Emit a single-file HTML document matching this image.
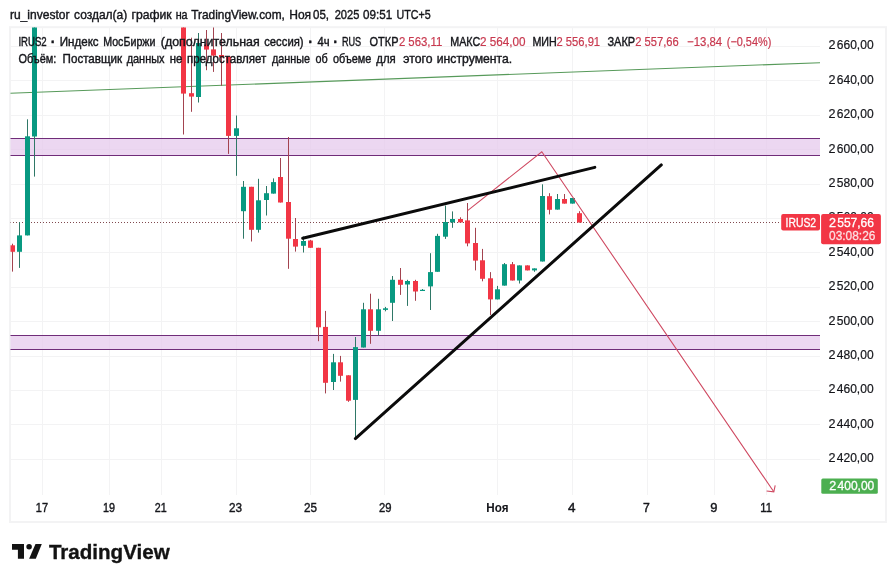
<!DOCTYPE html>
<html lang="ru"><head><meta charset="utf-8"><title>IRUS2 — TradingView</title>
<style>html,body{margin:0;padding:0;background:#fff;}body{width:896px;height:582px;overflow:hidden;font-family:"Liberation Sans",sans-serif;}svg{display:block;}text{font-family:"Liberation Sans",sans-serif;}</style>
</head><body>
<svg width="896" height="582" viewBox="0 0 896 582">
<rect width="896" height="582" fill="#ffffff"/>
<rect x="10" y="27.2" width="876" height="494.8" fill="#ffffff" stroke="#f3f3f4" stroke-width="2"/>
<clipPath id="plot"><rect x="10.5" y="27.5" width="809.5" height="466"/></clipPath>
<g stroke="#f3f3f4" stroke-width="1" shape-rendering="crispEdges">
<line x1="42.5" y1="27" x2="42.5" y2="495"/>
<line x1="109.5" y1="27" x2="109.5" y2="495"/>
<line x1="161.5" y1="27" x2="161.5" y2="495"/>
<line x1="236.5" y1="27" x2="236.5" y2="495"/>
<line x1="310.5" y1="27" x2="310.5" y2="495"/>
<line x1="384.5" y1="27" x2="384.5" y2="495"/>
<line x1="497.5" y1="27" x2="497.5" y2="495"/>
<line x1="572.5" y1="27" x2="572.5" y2="495"/>
<line x1="647.5" y1="27" x2="647.5" y2="495"/>
<line x1="714.5" y1="27" x2="714.5" y2="495"/>
<line x1="766.5" y1="27" x2="766.5" y2="495"/>
<line x1="10" y1="46.5" x2="820" y2="46.5"/>
<line x1="10" y1="80.5" x2="820" y2="80.5"/>
<line x1="10" y1="115.5" x2="820" y2="115.5"/>
<line x1="10" y1="149.5" x2="820" y2="149.5"/>
<line x1="10" y1="184.5" x2="820" y2="184.5"/>
<line x1="10" y1="218.5" x2="820" y2="218.5"/>
<line x1="10" y1="252.5" x2="820" y2="252.5"/>
<line x1="10" y1="287.5" x2="820" y2="287.5"/>
<line x1="10" y1="321.5" x2="820" y2="321.5"/>
<line x1="10" y1="356.5" x2="820" y2="356.5"/>
<line x1="10" y1="390.5" x2="820" y2="390.5"/>
<line x1="10" y1="424.5" x2="820" y2="424.5"/>
<line x1="10" y1="459.5" x2="820" y2="459.5"/>
</g>
<g clip-path="url(#plot)">
<rect x="0" y="138.5" width="820" height="17.0" fill="#e6c9ec" fill-opacity="0.75"/>
<line x1="0" y1="138.5" x2="820" y2="138.5" stroke="#702c79" stroke-width="1.15"/>
<line x1="0" y1="155.5" x2="820" y2="155.5" stroke="#702c79" stroke-width="1.15"/>
<rect x="0" y="335.5" width="820" height="14.0" fill="#e6c9ec" fill-opacity="0.75"/>
<line x1="0" y1="335.5" x2="820" y2="335.5" stroke="#702c79" stroke-width="1.15"/>
<line x1="0" y1="349.5" x2="820" y2="349.5" stroke="#702c79" stroke-width="1.15"/>
<line x1="10" y1="93.3" x2="820" y2="62.7" stroke="#579a5a" stroke-width="1.1"/>
<line x1="10" y1="222.5" x2="779" y2="222.5" stroke="#80494f" stroke-width="1" stroke-dasharray="1 2" shape-rendering="crispEdges"/>
<rect x="12" y="243.7" width="1" height="27.9" fill="#a3434f"/>
<rect x="10" y="245.3" width="5" height="6.5" fill="#F23645"/>
<rect x="19" y="222" width="1" height="45.9" fill="#2f7867"/>
<rect x="17" y="235.4" width="5" height="16.4" fill="#089981"/>
<rect x="27" y="119.3" width="1" height="116.1" fill="#2f7867"/>
<rect x="25" y="136.3" width="5" height="99.1" fill="#089981"/>
<rect x="34" y="27" width="1" height="149.6" fill="#2f7867"/>
<rect x="32" y="27" width="5" height="109.5" fill="#089981"/>
<rect x="183" y="27" width="1" height="107.5" fill="#a3434f"/>
<rect x="181" y="27" width="5" height="66.6" fill="#F23645"/>
<rect x="191" y="37.7" width="1" height="74.1" fill="#a3434f"/>
<rect x="189" y="93.2" width="5" height="3.4" fill="#F23645"/>
<rect x="198" y="33" width="1" height="69.5" fill="#2f7867"/>
<rect x="196" y="43" width="5" height="54.0" fill="#089981"/>
<rect x="206" y="30" width="1" height="40.2" fill="#a3434f"/>
<rect x="204" y="44.5" width="5" height="5.1" fill="#F23645"/>
<rect x="213" y="27" width="1" height="44.9" fill="#a3434f"/>
<rect x="211" y="49.4" width="5" height="6.2" fill="#F23645"/>
<rect x="221" y="33" width="1" height="52.7" fill="#a3434f"/>
<rect x="219" y="55" width="5" height="2.4" fill="#F23645"/>
<rect x="228" y="56.6" width="1" height="97.3" fill="#a3434f"/>
<rect x="226" y="56.6" width="5" height="79.3" fill="#F23645"/>
<rect x="236" y="115.5" width="1" height="60.3" fill="#2f7867"/>
<rect x="234" y="128.3" width="5" height="7.6" fill="#089981"/>
<rect x="243" y="181" width="1" height="57.7" fill="#2f7867"/>
<rect x="241" y="186.8" width="5" height="24.4" fill="#089981"/>
<rect x="251" y="186.8" width="1" height="54.7" fill="#a3434f"/>
<rect x="249" y="186.8" width="5" height="43.0" fill="#F23645"/>
<rect x="258" y="178.8" width="1" height="53.8" fill="#2f7867"/>
<rect x="256" y="200.3" width="5" height="29.5" fill="#089981"/>
<rect x="266" y="186" width="1" height="29.5" fill="#2f7867"/>
<rect x="264" y="193.2" width="5" height="6.8" fill="#089981"/>
<rect x="273" y="178.4" width="1" height="15.2" fill="#2f7867"/>
<rect x="271" y="182.1" width="5" height="11.5" fill="#089981"/>
<rect x="280" y="158" width="1" height="44.5" fill="#a3434f"/>
<rect x="278" y="177" width="5" height="25.5" fill="#F23645"/>
<rect x="288" y="137" width="1" height="131.8" fill="#a3434f"/>
<rect x="286" y="202" width="5" height="36.7" fill="#F23645"/>
<rect x="295" y="218" width="1" height="33.6" fill="#a3434f"/>
<rect x="293" y="239" width="5" height="7.6" fill="#F23645"/>
<rect x="303" y="236.5" width="1" height="16.0" fill="#2f7867"/>
<rect x="301" y="241" width="5" height="4.8" fill="#089981"/>
<rect x="310" y="239.9" width="1" height="7.9" fill="#a3434f"/>
<rect x="308" y="240.5" width="5" height="7.3" fill="#F23645"/>
<rect x="318" y="247.8" width="1" height="93.4" fill="#a3434f"/>
<rect x="316" y="247.8" width="5" height="79.5" fill="#F23645"/>
<rect x="325" y="310.9" width="1" height="82.5" fill="#a3434f"/>
<rect x="323" y="326.9" width="5" height="55.9" fill="#F23645"/>
<rect x="333" y="353.9" width="1" height="36.1" fill="#2f7867"/>
<rect x="331" y="362.3" width="5" height="19.7" fill="#089981"/>
<rect x="340" y="355.9" width="1" height="25.7" fill="#a3434f"/>
<rect x="338" y="362.3" width="5" height="13.5" fill="#F23645"/>
<rect x="348" y="375.3" width="1" height="26.5" fill="#a3434f"/>
<rect x="346" y="375.3" width="5" height="25.4" fill="#F23645"/>
<rect x="355" y="337" width="1" height="101.8" fill="#2f7867"/>
<rect x="353" y="347.1" width="5" height="52.8" fill="#089981"/>
<rect x="363" y="302.8" width="1" height="44.7" fill="#2f7867"/>
<rect x="361" y="309.3" width="5" height="38.2" fill="#089981"/>
<rect x="370" y="293.7" width="1" height="50.1" fill="#a3434f"/>
<rect x="368" y="309.3" width="5" height="21.5" fill="#F23645"/>
<rect x="378" y="298.8" width="1" height="36.6" fill="#2f7867"/>
<rect x="376" y="309.3" width="5" height="21.5" fill="#089981"/>
<rect x="385" y="306.9" width="1" height="4.4" fill="#2f7867"/>
<rect x="383" y="308.3" width="5" height="1.6" fill="#089981"/>
<rect x="392" y="276" width="1" height="45.0" fill="#2f7867"/>
<rect x="390" y="279.8" width="5" height="23.0" fill="#089981"/>
<rect x="400" y="268" width="1" height="26.9" fill="#a3434f"/>
<rect x="398" y="279.8" width="5" height="5.0" fill="#F23645"/>
<rect x="407" y="279.8" width="1" height="26.1" fill="#2f7867"/>
<rect x="405" y="281" width="5" height="3.5" fill="#089981"/>
<rect x="415" y="279.8" width="1" height="21.0" fill="#a3434f"/>
<rect x="413" y="281" width="5" height="10.5" fill="#F23645"/>
<rect x="422" y="289" width="1" height="2.0" fill="#2f7867"/>
<rect x="420" y="289.8" width="5" height="1.2" fill="#089981"/>
<rect x="430" y="253.2" width="1" height="56.8" fill="#2f7867"/>
<rect x="428" y="272.1" width="5" height="14.3" fill="#089981"/>
<rect x="437" y="233.8" width="1" height="38.0" fill="#2f7867"/>
<rect x="435" y="235.9" width="5" height="35.9" fill="#089981"/>
<rect x="445" y="205.6" width="1" height="33.3" fill="#2f7867"/>
<rect x="443" y="222" width="5" height="14.7" fill="#089981"/>
<rect x="452" y="211.4" width="1" height="16.4" fill="#2f7867"/>
<rect x="450" y="219" width="5" height="3.4" fill="#089981"/>
<rect x="460" y="217.3" width="1" height="5.1" fill="#a3434f"/>
<rect x="458" y="219" width="5" height="3.4" fill="#F23645"/>
<rect x="467" y="203" width="1" height="43.3" fill="#a3434f"/>
<rect x="465" y="220.4" width="5" height="23.0" fill="#F23645"/>
<rect x="475" y="227.8" width="1" height="42.6" fill="#a3434f"/>
<rect x="473" y="243" width="5" height="17.6" fill="#F23645"/>
<rect x="482" y="248.9" width="1" height="32.4" fill="#a3434f"/>
<rect x="480" y="260.3" width="5" height="18.5" fill="#F23645"/>
<rect x="490" y="272.1" width="1" height="42.9" fill="#a3434f"/>
<rect x="488" y="278.3" width="5" height="21.1" fill="#F23645"/>
<rect x="497" y="285.9" width="1" height="13.5" fill="#2f7867"/>
<rect x="495" y="289.3" width="5" height="10.1" fill="#089981"/>
<rect x="504" y="263" width="1" height="22.6" fill="#2f7867"/>
<rect x="502" y="264.2" width="5" height="21.4" fill="#089981"/>
<rect x="512" y="262" width="1" height="18.5" fill="#a3434f"/>
<rect x="510" y="264.2" width="5" height="16.3" fill="#F23645"/>
<rect x="519" y="265.4" width="1" height="18.1" fill="#2f7867"/>
<rect x="517" y="265.4" width="5" height="15.1" fill="#089981"/>
<rect x="527" y="265.4" width="1" height="5.0" fill="#a3434f"/>
<rect x="525" y="265.4" width="5" height="5.0" fill="#F23645"/>
<rect x="534" y="268.4" width="1" height="3.4" fill="#2f7867"/>
<rect x="532" y="268.4" width="5" height="2.0" fill="#089981"/>
<rect x="542" y="184.3" width="1" height="77.2" fill="#2f7867"/>
<rect x="540" y="196" width="5" height="65.5" fill="#089981"/>
<rect x="549" y="193.2" width="1" height="21.2" fill="#a3434f"/>
<rect x="547" y="196.2" width="5" height="13.6" fill="#F23645"/>
<rect x="557" y="194" width="1" height="15.6" fill="#2f7867"/>
<rect x="555" y="199" width="5" height="10.6" fill="#089981"/>
<rect x="564" y="194" width="1" height="9.6" fill="#a3434f"/>
<rect x="562" y="199" width="5" height="4.6" fill="#F23645"/>
<rect x="572" y="198" width="1" height="5.6" fill="#2f7867"/>
<rect x="570" y="198" width="5" height="5.6" fill="#089981"/>
<rect x="579" y="211.2" width="1" height="11.3" fill="#a3434f"/>
<rect x="577" y="213.2" width="5" height="9.3" fill="#F23645"/>
<polyline points="467.6,210.6 541.8,151.8 773.8,491.8" fill="none" stroke="#cf4a62" stroke-width="1.1" stroke-linejoin="miter"/>
<polyline points="766.6,491 773.8,491.8 775.2,485.3" fill="none" stroke="#cf4a62" stroke-width="1.1"/>
<line x1="302.7" y1="238.2" x2="594.8" y2="167.4" stroke="#0b0b0b" stroke-width="3.0" stroke-linecap="round"/>
<line x1="355.4" y1="438.6" x2="661.3" y2="164.9" stroke="#0b0b0b" stroke-width="3.0" stroke-linecap="round"/>
</g>
<g font-size="12.2" stroke-width="0.4">
<text x="9.9" y="18.8" textLength="59.6" lengthAdjust="spacingAndGlyphs" fill="#15161b" stroke="#15161b">ru_investor</text>
<text x="74.0" y="18.8" textLength="53.3" lengthAdjust="spacingAndGlyphs" fill="#15161b" stroke="#15161b">создал(а)</text>
<text x="131.6" y="18.8" textLength="40.1" lengthAdjust="spacingAndGlyphs" fill="#15161b" stroke="#15161b">график</text>
<text x="175.7" y="18.8" textLength="11.9" lengthAdjust="spacingAndGlyphs" fill="#15161b" stroke="#15161b">на</text>
<text x="191.2" y="18.8" textLength="93.7" lengthAdjust="spacingAndGlyphs" fill="#15161b" stroke="#15161b">TradingView.com,</text>
<text x="289.2" y="18.8" textLength="21.9" lengthAdjust="spacingAndGlyphs" fill="#15161b" stroke="#15161b">Ноя</text>
<text x="313.0" y="18.8" textLength="16.0" lengthAdjust="spacingAndGlyphs" fill="#15161b" stroke="#15161b">05,</text>
<text x="334.7" y="18.8" textLength="24.7" lengthAdjust="spacingAndGlyphs" fill="#15161b" stroke="#15161b">2025</text>
<text x="363.1" y="18.8" textLength="29.1" lengthAdjust="spacingAndGlyphs" fill="#15161b" stroke="#15161b">09:51</text>
<text x="396.6" y="18.8" textLength="34.2" lengthAdjust="spacingAndGlyphs" fill="#15161b" stroke="#15161b">UTC+5</text>
<text x="18.4" y="46.1" textLength="28.3" lengthAdjust="spacingAndGlyphs" fill="#15161b" stroke="#15161b">IRUS2</text>
<text x="53.0" y="47.4" text-anchor="middle" font-weight="bold" font-size="14" fill="#15161b" stroke="#15161b">·</text>
<text x="59.7" y="46.1" textLength="39.0" lengthAdjust="spacingAndGlyphs" fill="#15161b" stroke="#15161b">Индекс</text>
<text x="103.2" y="46.1" textLength="52.2" lengthAdjust="spacingAndGlyphs" fill="#15161b" stroke="#15161b">МосБиржи</text>
<text x="160.8" y="46.1" textLength="98.9" lengthAdjust="spacingAndGlyphs" fill="#15161b" stroke="#15161b">(дополнительная</text>
<text x="264.2" y="46.1" textLength="39.4" lengthAdjust="spacingAndGlyphs" fill="#15161b" stroke="#15161b">сессия)</text>
<text x="310.5" y="47.4" text-anchor="middle" font-weight="bold" font-size="14" fill="#15161b" stroke="#15161b">·</text>
<text x="317.4" y="46.1" textLength="12.1" lengthAdjust="spacingAndGlyphs" fill="#15161b" stroke="#15161b">4ч</text>
<text x="335.5" y="47.4" text-anchor="middle" font-weight="bold" font-size="14" fill="#15161b" stroke="#15161b">·</text>
<text x="341.9" y="46.1" textLength="19.3" lengthAdjust="spacingAndGlyphs" fill="#15161b" stroke="#15161b">RUS</text>
<text x="369.6" y="46.1" textLength="28.9" lengthAdjust="spacingAndGlyphs" fill="#15161b" stroke="#15161b">ОТКР</text>
<text x="450.2" y="46.1" textLength="30.0" lengthAdjust="spacingAndGlyphs" fill="#15161b" stroke="#15161b">МАКС</text>
<text x="532.4" y="46.1" textLength="24.4" lengthAdjust="spacingAndGlyphs" fill="#15161b" stroke="#15161b">МИН</text>
<text x="607.4" y="46.1" textLength="27.8" lengthAdjust="spacingAndGlyphs" fill="#15161b" stroke="#15161b">ЗАКР</text>
<text x="398.9" y="46.1" textLength="43.4" lengthAdjust="spacingAndGlyphs" fill="#c8394f" stroke="#c8394f" stroke-width="0.2">2 563,11</text>
<text x="479.9" y="46.1" textLength="45.6" lengthAdjust="spacingAndGlyphs" fill="#c8394f" stroke="#c8394f" stroke-width="0.2">2 564,00</text>
<text x="556.5" y="46.1" textLength="43.6" lengthAdjust="spacingAndGlyphs" fill="#c8394f" stroke="#c8394f" stroke-width="0.2">2 556,91</text>
<text x="635.3" y="46.1" textLength="43.4" lengthAdjust="spacingAndGlyphs" fill="#c8394f" stroke="#c8394f" stroke-width="0.2">2 557,66</text>
<text x="687.1" y="46.1" textLength="35.1" lengthAdjust="spacingAndGlyphs" fill="#c8394f" stroke="#c8394f" stroke-width="0.2">−13,84</text>
<text x="726.8" y="46.1" textLength="44.5" lengthAdjust="spacingAndGlyphs" fill="#c8394f" stroke="#c8394f" stroke-width="0.2">(−0,54%)</text>
<text x="18.4" y="63" textLength="37.9" lengthAdjust="spacingAndGlyphs" fill="#15161b" stroke="#15161b">Объём:</text>
<text x="62.6" y="63" textLength="59.5" lengthAdjust="spacingAndGlyphs" fill="#15161b" stroke="#15161b">Поставщик</text>
<text x="126.7" y="63" textLength="37.8" lengthAdjust="spacingAndGlyphs" fill="#15161b" stroke="#15161b">данных</text>
<text x="169.8" y="63" textLength="12.6" lengthAdjust="spacingAndGlyphs" fill="#15161b" stroke="#15161b">не</text>
<text x="187.0" y="63" textLength="79.3" lengthAdjust="spacingAndGlyphs" fill="#15161b" stroke="#15161b">предоставляет</text>
<text x="272.0" y="63" textLength="37.9" lengthAdjust="spacingAndGlyphs" fill="#15161b" stroke="#15161b">данные</text>
<text x="315.5" y="63" textLength="12.2" lengthAdjust="spacingAndGlyphs" fill="#15161b" stroke="#15161b">об</text>
<text x="333.0" y="63" textLength="38.3" lengthAdjust="spacingAndGlyphs" fill="#15161b" stroke="#15161b">объеме</text>
<text x="376.3" y="63" textLength="19.5" lengthAdjust="spacingAndGlyphs" fill="#15161b" stroke="#15161b">для</text>
<text x="403.3" y="63" textLength="29.2" lengthAdjust="spacingAndGlyphs" fill="#15161b" stroke="#15161b">этого</text>
<text x="436.8" y="63" textLength="75.4" lengthAdjust="spacingAndGlyphs" fill="#15161b" stroke="#15161b">инструмента.</text>
</g>
<g font-size="12" stroke-width="0.2">
<text x="828.6" y="49.4" textLength="7" lengthAdjust="spacingAndGlyphs" fill="#15161b" stroke="#15161b">2</text>
<text x="836.8" y="49.4" textLength="36.8" lengthAdjust="spacingAndGlyphs" fill="#15161b" stroke="#15161b">660,00</text>
<text x="828.6" y="83.8" textLength="7" lengthAdjust="spacingAndGlyphs" fill="#15161b" stroke="#15161b">2</text>
<text x="836.8" y="83.8" textLength="36.8" lengthAdjust="spacingAndGlyphs" fill="#15161b" stroke="#15161b">640,00</text>
<text x="828.6" y="118.2" textLength="7" lengthAdjust="spacingAndGlyphs" fill="#15161b" stroke="#15161b">2</text>
<text x="836.8" y="118.2" textLength="36.8" lengthAdjust="spacingAndGlyphs" fill="#15161b" stroke="#15161b">620,00</text>
<text x="828.6" y="152.6" textLength="7" lengthAdjust="spacingAndGlyphs" fill="#15161b" stroke="#15161b">2</text>
<text x="836.8" y="152.6" textLength="36.8" lengthAdjust="spacingAndGlyphs" fill="#15161b" stroke="#15161b">600,00</text>
<text x="828.6" y="187.0" textLength="7" lengthAdjust="spacingAndGlyphs" fill="#15161b" stroke="#15161b">2</text>
<text x="836.8" y="187.0" textLength="36.8" lengthAdjust="spacingAndGlyphs" fill="#15161b" stroke="#15161b">580,00</text>
<text x="828.6" y="221.4" textLength="7" lengthAdjust="spacingAndGlyphs" fill="#15161b" stroke="#15161b">2</text>
<text x="836.8" y="221.4" textLength="36.8" lengthAdjust="spacingAndGlyphs" fill="#15161b" stroke="#15161b">560,00</text>
<text x="828.6" y="255.8" textLength="7" lengthAdjust="spacingAndGlyphs" fill="#15161b" stroke="#15161b">2</text>
<text x="836.8" y="255.8" textLength="36.8" lengthAdjust="spacingAndGlyphs" fill="#15161b" stroke="#15161b">540,00</text>
<text x="828.6" y="290.2" textLength="7" lengthAdjust="spacingAndGlyphs" fill="#15161b" stroke="#15161b">2</text>
<text x="836.8" y="290.2" textLength="36.8" lengthAdjust="spacingAndGlyphs" fill="#15161b" stroke="#15161b">520,00</text>
<text x="828.6" y="324.6" textLength="7" lengthAdjust="spacingAndGlyphs" fill="#15161b" stroke="#15161b">2</text>
<text x="836.8" y="324.6" textLength="36.8" lengthAdjust="spacingAndGlyphs" fill="#15161b" stroke="#15161b">500,00</text>
<text x="828.6" y="359.0" textLength="7" lengthAdjust="spacingAndGlyphs" fill="#15161b" stroke="#15161b">2</text>
<text x="836.8" y="359.0" textLength="36.8" lengthAdjust="spacingAndGlyphs" fill="#15161b" stroke="#15161b">480,00</text>
<text x="828.6" y="393.4" textLength="7" lengthAdjust="spacingAndGlyphs" fill="#15161b" stroke="#15161b">2</text>
<text x="836.8" y="393.4" textLength="36.8" lengthAdjust="spacingAndGlyphs" fill="#15161b" stroke="#15161b">460,00</text>
<text x="828.6" y="427.8" textLength="7" lengthAdjust="spacingAndGlyphs" fill="#15161b" stroke="#15161b">2</text>
<text x="836.8" y="427.8" textLength="36.8" lengthAdjust="spacingAndGlyphs" fill="#15161b" stroke="#15161b">440,00</text>
<text x="828.6" y="462.2" textLength="7" lengthAdjust="spacingAndGlyphs" fill="#15161b" stroke="#15161b">2</text>
<text x="836.8" y="462.2" textLength="36.8" lengthAdjust="spacingAndGlyphs" fill="#15161b" stroke="#15161b">420,00</text>
</g>
<rect x="781.2" y="214.1" width="38.8" height="16.4" rx="2" fill="#F23645"/>
<g font-size="12.2" stroke-width="0.3" stroke="#ffffff">
<text x="785.5" y="226.7" fill="#ffffff" textLength="30.6" lengthAdjust="spacingAndGlyphs">IRUS2</text>
<rect x="821.1" y="214.1" width="59.8" height="30.2" rx="2" fill="#F23645" stroke="none"/>
<text x="829.0" y="226.7" textLength="7" lengthAdjust="spacingAndGlyphs" fill="#ffffff">2</text>
<text x="837.2" y="226.7" textLength="36.8" lengthAdjust="spacingAndGlyphs" fill="#ffffff">557,66</text>
<text x="829" y="240" fill="#ffffff" fill-opacity="0.78" stroke-opacity="0.78" textLength="46.4" lengthAdjust="spacingAndGlyphs">03:08:26</text>
<rect x="821.3" y="478.4" width="56.5" height="15.3" rx="1.5" fill="#4caf50" stroke="none"/>
<text x="829.3" y="490.4" textLength="7" lengthAdjust="spacingAndGlyphs" fill="#ffffff">2</text>
<text x="837.5" y="490.4" textLength="36.8" lengthAdjust="spacingAndGlyphs" fill="#ffffff">400,00</text>
</g>
<g font-size="12.2" fill="#15161b" stroke="#15161b" stroke-width="0.4">
<text x="35.8" y="511.9" textLength="12.2" lengthAdjust="spacingAndGlyphs">17</text>
<text x="103.1" y="511.9" textLength="12.0" lengthAdjust="spacingAndGlyphs">19</text>
<text x="154.7" y="511.9" textLength="11.9" lengthAdjust="spacingAndGlyphs">21</text>
<text x="229.0" y="511.9" textLength="13.0" lengthAdjust="spacingAndGlyphs">23</text>
<text x="304.0" y="511.9" textLength="13.0" lengthAdjust="spacingAndGlyphs">25</text>
<text x="379.0" y="511.9" textLength="12.5" lengthAdjust="spacingAndGlyphs">29</text>
<text x="486.3" y="511.9" textLength="22.2" lengthAdjust="spacingAndGlyphs" font-weight="bold" stroke-width="0">Ноя</text>
<text x="568.0" y="511.9" textLength="7.5" lengthAdjust="spacingAndGlyphs">4</text>
<text x="643.0" y="511.9" textLength="6.8" lengthAdjust="spacingAndGlyphs">7</text>
<text x="710.3" y="511.9" textLength="7.2" lengthAdjust="spacingAndGlyphs">9</text>
<text x="760.3" y="511.9" textLength="11.7" lengthAdjust="spacingAndGlyphs">11</text>
</g>
<g fill="#131313">
<path d="M12 544H24V558.8H17.9V549.7H12Z"/>
<circle cx="29.1" cy="546.8" r="2.75"/>
<path d="M35.5 544H41.8L35.8 558.8H29.1Z"/>
<text x="48.9" y="558.6" font-size="20.4" font-weight="bold" stroke="#131313" stroke-width="0.35" textLength="120.8" lengthAdjust="spacingAndGlyphs">TradingView</text>
</g>
</svg>
</body></html>
